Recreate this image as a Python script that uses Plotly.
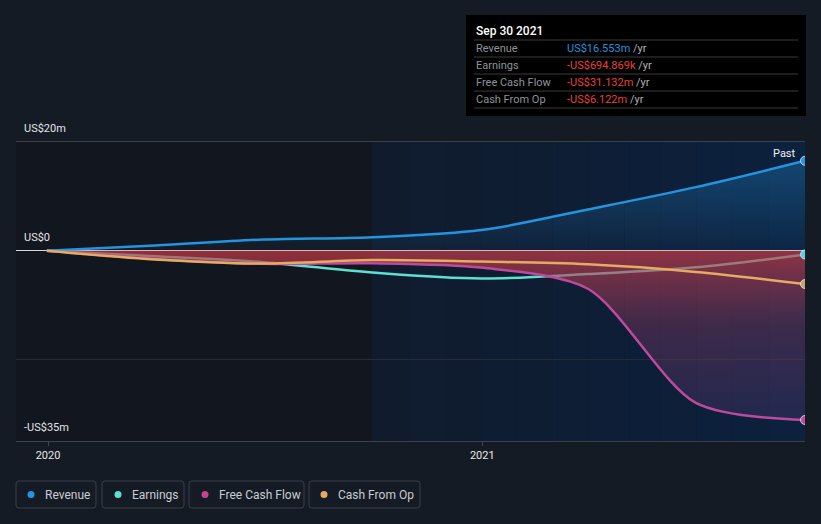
import plotly.graph_objects as go
import pandas as pd

# ---- data (US$ millions) ----
dates = ["2019-12-31", "2020-03-31", "2020-06-30", "2020-09-30",
         "2020-12-31", "2021-03-31", "2021-06-30", "2021-09-30"]
revenue = [0.0, 0.95, 2.05, 2.5, 3.8, 7.6, 11.7, 16.553]
earnings = [0.0, -1.0, -2.1, -4.0, -5.1, -4.3, -3.05, -0.695]
free_cash_flow = [0.0, -1.5, -2.4, -2.3, -3.1, -7.0, -28.0, -31.132]
cash_from_op = [0.0, -1.6, -2.35, -1.7, -2.0, -2.5, -3.9, -6.122]

series_names = ["Revenue", "Earnings", "Free Cash Flow", "Cash From Op"]
y_label_vals = [20, 0, -35]
y_label_text = ["US$20m", "US$0", "-US$35m"]
x_tick_vals = ["2020-01-01", "2021-01-01"]
x_tick_text = ["2020", "2021"]

tooltip_title = "Sep 30 2021"
tooltip_values = ["US$16.553m", "-US$694.869k", "-US$31.132m", "-US$6.122m"]

x_range = ["2019-12-05", "2021-09-30"]
past_start = "2020-09-30"

# ---- style ----
C_REV = "#2394df"
C_EARN = "#5ce0cf"
C_FCF = "#bd4a9c"
C_CFO = "#e5ab62"
BG = "#151b25"
FONT = "Roboto"

L, T, W, H = 16, 142, 789, 299

fig = go.Figure()

# Revenue with vertical gradient fill
fig.add_trace(go.Scatter(
    x=dates, y=revenue, mode="lines", name="Revenue",
    line=dict(color=C_REV, width=2.5, shape="spline", smoothing=1.0),
    fill="tozeroy",
    fillgradient=dict(type="vertical", start=0, stop=20,
                      colorscale=[[0, "rgba(35,148,223,0.04)"], [1, "rgba(35,148,223,0.38)"]]),
    hoverinfo="skip", showlegend=False))

# Earnings (drawn under FCF fill)
fig.add_trace(go.Scatter(
    x=dates, y=earnings, mode="lines", name="Earnings",
    line=dict(color=C_EARN, width=2.5, shape="spline", smoothing=1.0),
    hoverinfo="skip", showlegend=False))

# Free cash flow with red->purple fill
fig.add_trace(go.Scatter(
    x=dates, y=free_cash_flow, mode="lines", name="Free Cash Flow",
    line=dict(color=C_FCF, width=2.5, shape="spline", smoothing=0.8),
    fill="tozeroy",
    fillgradient=dict(type="vertical", start=-35, stop=0,
                      colorscale=[[0, "rgba(110,70,150,0.18)"], [0.6, "rgba(150,60,100,0.35)"],
                                  [1, "rgba(205,60,70,0.68)"]]),
    hoverinfo="skip", showlegend=False))

# Cash from operations
fig.add_trace(go.Scatter(
    x=dates, y=cash_from_op, mode="lines", name="Cash From Op",
    line=dict(color=C_CFO, width=2.5, shape="spline", smoothing=1.0),
    hoverinfo="skip", showlegend=False))

# end markers
for vals, col in [(revenue, C_REV), (earnings, "#4fd2e6"), (free_cash_flow, C_FCF), (cash_from_op, "#c9a26a")]:
    fig.add_trace(go.Scatter(
        x=[dates[-1]], y=[vals[-1]], mode="markers",
        marker=dict(size=9, color=col, line=dict(color="rgba(230,235,245,0.8)", width=1)),
        hoverinfo="skip", showlegend=False))

shapes = []
# "past" highlighted region with horizontal gradient
edges = pd.date_range(past_start, x_range[1], periods=13)
c0 = (16, 27, 45)
c1 = (12, 33, 62)
n = len(edges) - 1
for i in range(n):
    f = i / (n - 1)
    col = "rgb(%d,%d,%d)" % tuple(round(a + (b - a) * f) for a, b in zip(c0, c1))
    shapes.append(dict(type="rect", xref="x", yref="paper", x0=edges[i], x1=edges[i + 1],
                       y0=0, y1=1, fillcolor=col, line=dict(width=0), layer="below"))


def px_rect(x0, x1, y0, y1, r=0):
    """rounded rect path in absolute page pixels -> relative to plot top-left"""
    ax0, ax1 = x0 - L, x1 - L
    ay0, ay1 = T - y1, T - y0  # bottom, top (y up)
    if r == 0:
        path = f"M{ax0},{ay0} L{ax1},{ay0} L{ax1},{ay1} L{ax0},{ay1} Z"
    else:
        path = (f"M{ax0+r},{ay0} L{ax1-r},{ay0} Q{ax1},{ay0} {ax1},{ay0+r} "
                f"L{ax1},{ay1-r} Q{ax1},{ay1} {ax1-r},{ay1} L{ax0+r},{ay1} "
                f"Q{ax0},{ay1} {ax0},{ay1-r} L{ax0},{ay0+r} Q{ax0},{ay0} {ax0+r},{ay0} Z")
    return path


def pixshape(path, fill, line_col, lw=1):
    return dict(type="path", path=path, xref="paper", yref="paper",
                xsizemode="pixel", ysizemode="pixel", xanchor=0, yanchor=1,
                fillcolor=fill, line=dict(color=line_col, width=lw), layer="above")


# tooltip box
shapes.append(pixshape(px_rect(466, 806, 15, 116), "#000000", "#000000", 0))
for yy in [40, 57, 74, 91, 108]:
    shapes.append(dict(type="line", xref="paper", yref="paper", xsizemode="pixel", ysizemode="pixel",
                       xanchor=0, yanchor=1, x0=474 - L, x1=798 - L, y0=T - yy, y1=T - yy,
                       line=dict(color="#3b3b3b", width=1), layer="above"))

# legend boxes
legend_boxes = [(16, 96), (102, 184), (189, 304), (309, 420)]
legend_dots = [31, 118, 205, 324]
legend_text_x = [43, 130, 217, 336]
legend_cols = [C_REV, C_EARN, "#c3438c", C_CFO]
for (bx0, bx1), dx, col in zip(legend_boxes, legend_dots, legend_cols):
    shapes.append(pixshape(px_rect(bx0, bx1, 481, 508, 3), "rgba(0,0,0,0)", "#3a3f49", 1))
    shapes.append(dict(type="circle", xref="paper", yref="paper", xsizemode="pixel", ysizemode="pixel",
                       xanchor=0, yanchor=1, x0=dx - 3.5 - L, x1=dx + 3.5 - L,
                       y0=T - 494.5 - 3.5, y1=T - 494.5 + 3.5,
                       fillcolor=col, line=dict(width=0), layer="above"))

annotations = []


def pix_ann(text, px, py, size=11, color="#e0e0e0", xanchor="left", weight=None):
    f = dict(family=FONT, size=size, color=color)
    if weight:
        f["weight"] = weight
    return dict(text=text, xref="paper", yref="paper", x=0, y=1, xshift=px - L, yshift=T - py,
                xanchor=xanchor, yanchor="middle", showarrow=False, font=f)


# y labels
for v, t in zip(y_label_vals, y_label_text):
    annotations.append(dict(text=t, xref="paper", yref="y", x=0, y=v, xshift=6, yshift=5,
                            xanchor="left", yanchor="bottom", showarrow=False,
                            font=dict(family=FONT, size=11, color="#e2e4e8")))

# Past label
annotations.append(dict(text="Past", xref="x", yref="y", x=dates[-1], y=revenue[-1], xshift=-7, yshift=-1,
                        xanchor="right", yanchor="bottom", showarrow=False,
                        font=dict(family=FONT, size=11, color="#f0f0f0")))

# tooltip text
annotations.append(pix_ann(tooltip_title, 474, 31, size=12, color="#ffffff", weight=500))
row_y = [48.5, 65.5, 82.5, 99.5]
for name, val, yy in zip(series_names, tooltip_values, row_y):
    annotations.append(pix_ann(name, 474, yy, size=11, color="#8f9399"))
    vcol = "#2394df" if not val.startswith("-") else "#e8413f"
    annotations.append(pix_ann(f'<span style="color:{vcol}">{val}</span>'
                               f'<span style="color:#b0b3b8"> /yr</span>', 565, yy, size=11))

# legend text
for name, tx in zip(series_names, legend_text_x):
    annotations.append(pix_ann(name, tx, 494.5, size=12, color="#c9ccd2"))

fig.update_layout(
    width=821, height=524,
    margin=dict(l=L, r=821 - L - W, t=T, b=524 - T - H),
    paper_bgcolor=BG, plot_bgcolor="#12161e",
    font=dict(family=FONT, color="#e0e0e0"),
    showlegend=False,
    shapes=shapes, annotations=annotations,
    xaxis=dict(type="date", range=x_range, showgrid=False, zeroline=False,
               tickvals=x_tick_vals, ticktext=x_tick_text, ticks="outside", ticklen=4,
               tickcolor="#3c414b", showline=True, mirror=True, linecolor="#3c414b", linewidth=1,
               tickfont=dict(family=FONT, size=11, color="#e8e8e8")),
    yaxis=dict(range=[-35, 20], tickvals=[-20], showticklabels=False, showgrid=True,
               gridcolor="#262c37", gridwidth=1, zeroline=True, zerolinecolor="#d5d8dd",
               zerolinewidth=1, showline=False, fixedrange=True),
)

fig.write_html("out.html", config={"displayModeBar": False},
               post_script="document.body.style.margin='0';document.body.style.background='%s';" % BG)
